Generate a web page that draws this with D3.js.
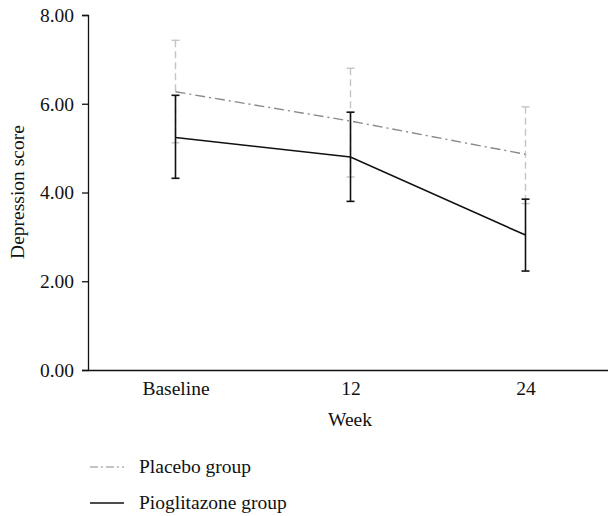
<!DOCTYPE html>
<html>
<head>
<meta charset="utf-8">
<script src="https://cdn.jsdelivr.net/npm/d3@7"></script>
<style>
  html, body { margin: 0; padding: 0; background: #fff; }
  svg { display: block; }
  text { font-family: "Liberation Serif", "Times New Roman", serif; fill: #111; }
</style>
</head>
<body>
<svg id="chart" width="608" height="516"></svg>
<script>
const categories = ["Baseline", "12", "24"];
const placeboMean = [6.27, 5.61, 4.86];
const placeboUpper = [7.43, 6.80, 5.93];
const placeboLower = [5.12, 4.35, 3.75];
const pioMean = [5.24, 4.80, 3.04];
const pioUpper = [6.19, 5.81, 3.85];
const pioLower = [4.32, 3.80, 2.23];
const yTicks = [0, 2, 4, 6, 8];
const seriesNames = ["Placebo group", "Pioglitazone group"];

const FS = 19.5;
const svg = d3.select("#chart");
const x = d3.scalePoint().domain(categories).range([88, 613]).padding(0.5);
const y = d3.scaleLinear().domain([0, 8]).range([370, 15]);

// Y axis
const yAxis = svg.append("g").attr("transform", "translate(88,0)")
  .call(d3.axisLeft(y).tickValues(yTicks).tickFormat(d3.format(".2f")).tickSizeOuter(0).tickSize(6).tickPadding(8));
yAxis.select(".domain").attr("stroke", "#111").attr("stroke-width", 1.3);
yAxis.selectAll(".tick line").attr("stroke", "#111").attr("stroke-width", 1.3);
yAxis.selectAll(".tick text").attr("font-size", FS).attr("font-family", "Liberation Serif").attr("fill", "#111");

// X axis
const xAxis = svg.append("g").attr("transform", "translate(0,370)")
  .call(d3.axisBottom(x).tickSize(0).tickSizeOuter(0).tickPadding(11));
xAxis.select(".domain").attr("stroke", "#111").attr("stroke-width", 1.3);
xAxis.selectAll(".tick text").attr("font-size", FS).attr("font-family", "Liberation Serif").attr("fill", "#111");

// Axis titles
svg.append("text").attr("x", 350).attr("y", 426).attr("text-anchor", "middle")
  .attr("font-size", FS).text("Week");
svg.append("text").attr("transform", "translate(24,192) rotate(-90)").attr("text-anchor", "middle")
  .attr("font-size", FS).text("Depression score");

const capW = 4;
function errorBars(mean, up, lo, color, dash, width) {
  const g = svg.append("g");
  categories.forEach((c, i) => {
    g.append("line").attr("x1", x(c)).attr("x2", x(c)).attr("y1", y(up[i])).attr("y2", y(lo[i]))
      .attr("stroke", color).attr("stroke-width", width).attr("stroke-dasharray", dash);
    [up[i], lo[i]].forEach(v => {
      g.append("line").attr("x1", x(c) - capW).attr("x2", x(c) + capW).attr("y1", y(v)).attr("y2", y(v))
        .attr("stroke", color).attr("stroke-width", width);
    });
  });
}

const line = d3.line().x((d, i) => x(categories[i])).y(d => y(d));

// Placebo
errorBars(placeboMean, placeboUpper, placeboLower, "#c4c4c4", "7,4", 1.4);
svg.append("path").datum(placeboMean).attr("d", line).attr("fill", "none")
  .attr("stroke", "#8a8a8a").attr("stroke-width", 1.4).attr("stroke-dasharray", "10,4,2,4");

// Pioglitazone
errorBars(pioMean, pioUpper, pioLower, "#111", null, 1.6);
svg.append("path").datum(pioMean).attr("d", line).attr("fill", "none")
  .attr("stroke", "#111").attr("stroke-width", 1.6);

// Legend
const legend = svg.append("g");
const legY = [467, 503];
legend.append("line").attr("x1", 90).attr("x2", 124).attr("y1", legY[0]).attr("y2", legY[0])
  .attr("stroke", "#8a8a8a").attr("stroke-width", 1.2).attr("stroke-dasharray", "8,3,2,3");
legend.append("line").attr("x1", 90).attr("x2", 124).attr("y1", legY[1]).attr("y2", legY[1])
  .attr("stroke", "#111").attr("stroke-width", 1.6);
seriesNames.forEach((n, i) => {
  legend.append("text").attr("x", 139).attr("y", legY[i] + 6).attr("font-size", FS).text(n);
});
</script>
</body>
</html>
